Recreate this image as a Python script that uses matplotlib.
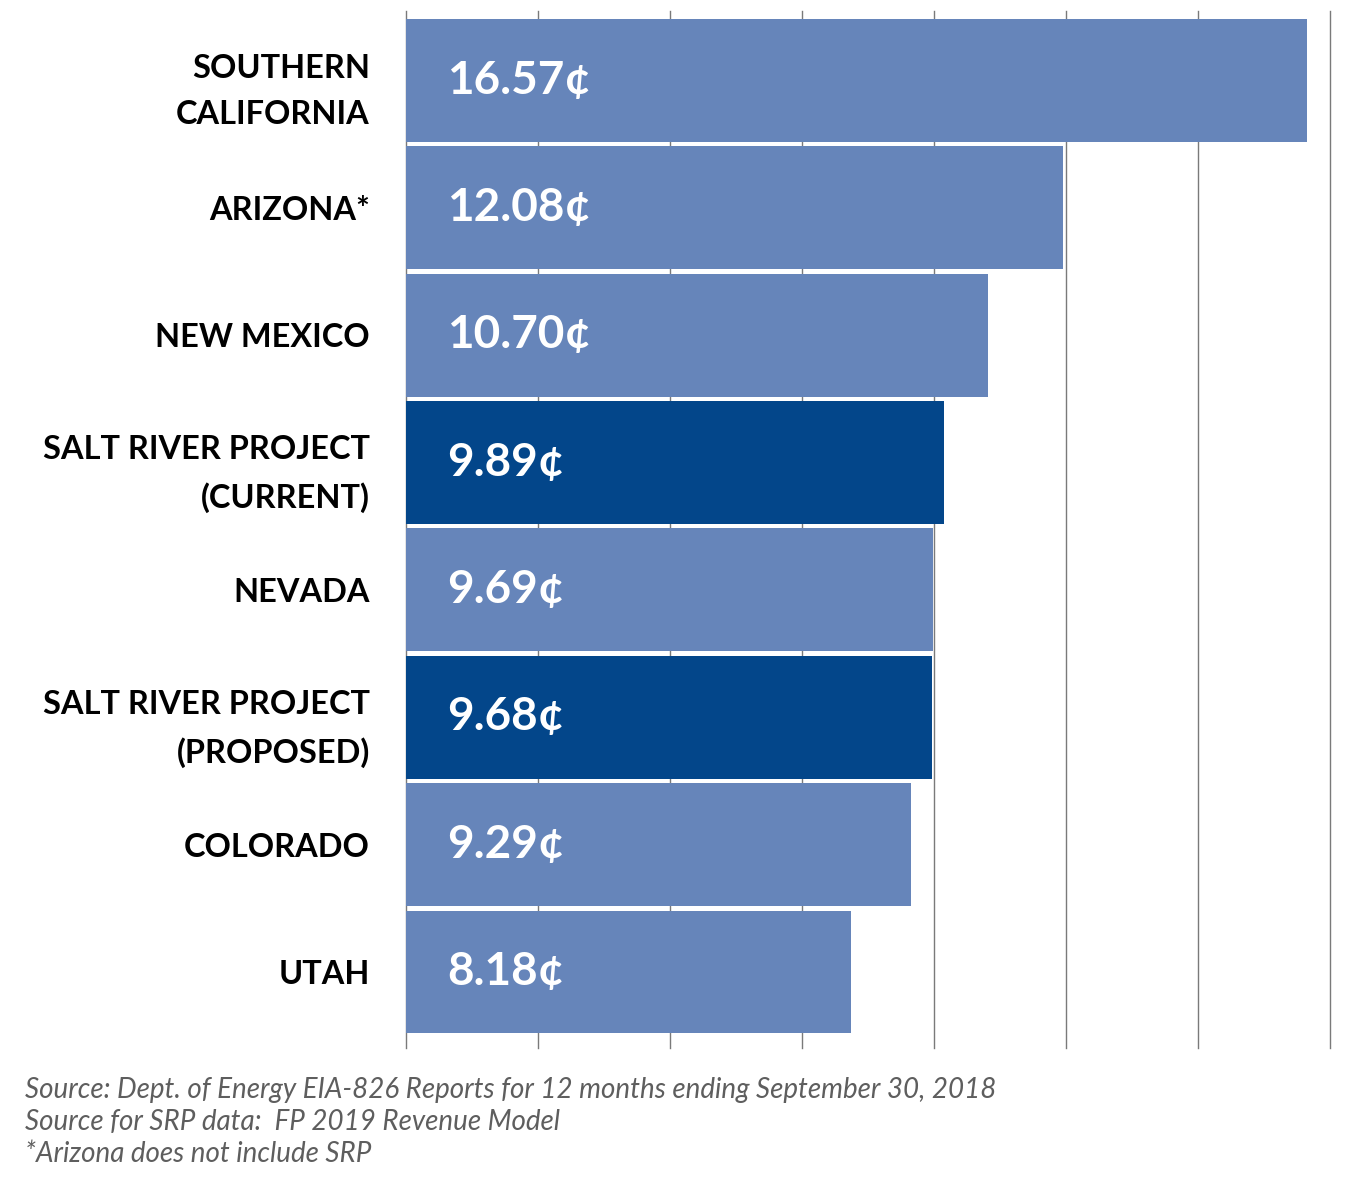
import matplotlib
matplotlib.use('Agg')
import matplotlib.pyplot as plt
import numpy as np

plt.rcParams['font.family'] = ['Lato', 'DejaVu Sans']

# residential price per kWh, cents
labels = ['SOUTHERN\nCALIFORNIA', 'ARIZONA*', 'NEW MEXICO', 'SALT RIVER PROJECT\n(CURRENT)',
          'NEVADA', 'SALT RIVER PROJECT\n(PROPOSED)', 'COLORADO', 'UTAH']
values = [16.57, 12.08, 10.70, 9.89, 9.69, 9.68, 9.29, 8.18]
is_srp = [False, False, False, True, False, True, False, False]
notes = ['Source: Dept. of Energy EIA-826 Reports for 12 months ending September 30, 2018',
         'Source for SRP data:  FP 2019 Revenue Model',
         '*Arizona does not include SRP']

light = '#6685BA'
dark = '#03468A'

fig = plt.figure(figsize=(13.66, 11.93), dpi=100)
ax = fig.add_axes([0.2972, 0.1215, 0.6764, 0.8693])

y = np.arange(len(values))
colors = [dark if s else light for s in is_srp]
ax.barh(y, values, height=0.965, color=colors, zorder=3)

for i, v in enumerate(values):
    ax.annotate('%.2f¢' % v, xy=(0, i), xytext=(29.5, 0), textcoords='offset points',
                ha='left', va='center', color='white', fontsize=33, fontweight='bold', zorder=4)

ax.set_xlim(0, 17)
ax.set_ylim(len(values) - 1 + 0.597, -0.546)
ax.set_xticks(np.linspace(0, 17, 8))
ax.set_xticklabels([])
ax.grid(axis='x', color='#7a7a7a', linewidth=1, zorder=0)
for gl in ax.get_xgridlines():
    gl.set_clip_on(False)
ax.set_yticks(y)
ax.set_yticklabels(labels, fontsize=23.4, fontweight='bold', linespacing=1.7)
ax.tick_params(axis='y', length=0, pad=26)
ax.tick_params(axis='x', length=0)
for s in ax.spines.values():
    s.set_visible(False)

for k, t in enumerate(notes):
    fig.text(25 / 1366, 1 - (1090 + 32 * k) / 1193, t, ha='left', va='center',
             fontsize=20, style='italic', color='#5e5e5e')

fig.savefig('out.png', dpi=100)
